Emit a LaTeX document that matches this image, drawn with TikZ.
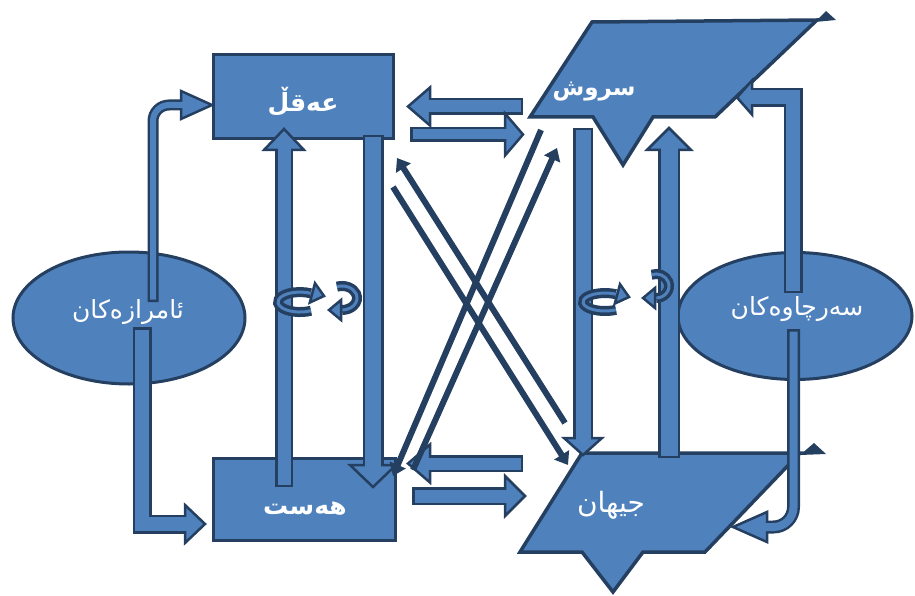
\documentclass[tikz,border=0pt]{standalone}
\usepackage{fontspec}
\newfontfamily\arfont[Script=Arabic]{DejaVu Sans}
\TeXXeTstate=1
\usepackage{tikz}
\usetikzlibrary{arrows.meta}
\usetikzlibrary{calc}
\usetikzlibrary{shapes.geometric}

\definecolor{blockblue}{HTML}{4F81BD}
\definecolor{edge}{HTML}{243F60}

% head of a block arrow: tip, direction, length, half width
\newcommand{\arrowhead}[4]{%
  \filldraw[fill=blockblue, draw=edge, line width=2.5pt, line join=miter]
    (#1) -- ($(#1)+(#2+180:#3)+(#2+90:#4)$) -- ($(#1)+(#2+180:#3)+(#2-90:#4)$) -- cycle;}

% block arrow: shaft width, shaft path, tip, direction, head length, head half width
\newcommand{\blockarrow}[6]{%
  \pgfmathsetmacro\outw{#1+5}%
  \draw[edge, line width=\outw pt] #2;
  \arrowhead{#3}{#4}{#5}{#6}
  \draw[blockblue, line width=#1pt, shorten <=2.5pt, shorten >=-2pt] #2;}

\begin{document}
\begin{tikzpicture}[x=1pt, y=-1pt]

\tikzstyle{box} = [rectangle, draw=edge, fill=blockblue, line width=3.5pt]
\tikzstyle{oval} = [ellipse, draw=edge, fill=blockblue, line width=3pt]
\tikzstyle{shapeline} = [draw=edge, fill=blockblue, line width=3.5pt, line join=miter]
\tikzstyle{lbl} = [text=white, font=\arfont\fontsize{25}{30}\selectfont]
\tikzstyle{boldlbl} = [text=white, font=\arfont\bfseries\fontsize{25}{30}\selectfont]
\tikzstyle{xline} = [edge, line width=6pt, -{Triangle[length=12pt,width=17pt]}]

\useasboundingbox (0,0) rectangle (915,596);

\node[oval, minimum width=232pt, minimum height=132pt] (amraz) at (129,318) {};
\node[oval, minimum width=234pt, minimum height=127pt] (sarchawa) at (795,316) {};

\node[box, minimum width=180pt, minimum height=84pt] (aql) at (303.5,96.5) {};
\node[box, minimum width=182pt, minimum height=82pt] (hast) at (304.5,499.5) {};

\draw[shapeline] (592,22) -- (817,20) -- (715,117) -- (653,117) -- (623,165) -- (593,117) -- (530,117) -- cycle;
\draw[shapeline] (582,453) -- (800,453) -- (705,552) -- (643,552) -- (613,592) -- (582,552) -- (520,552) -- cycle;
\fill[edge] (815,22) -- (826,11) -- (836,20) -- cycle;
\fill[edge] (800,455) -- (814,443) -- (826,454) -- cycle;

\node[boldlbl] (aql-t) at (303,102) {\beginR عەقڵ\endR};
\node[boldlbl] (hast-t) at (305,509) {\beginR هەست\endR};
\node[boldlbl, font=\arfont\bfseries\fontsize{23}{28}\selectfont] (srush) at (594,92) {\beginR سروش\endR};
\node[lbl, font=\arfont\fontsize{28}{33}\selectfont] (jihan) at (611,505) {\beginR جیهان\endR};
\node[lbl] (amraz-t) at (128,312) {\beginR ئامرازەکان\endR};
\node[lbl] (sarchawa-t) at (797,309) {\beginR سەرچاوەکان\endR};

% up and down between the boxes
\blockarrow{13}{(284,487) -- (284,150)}{284,129}{270}{21}{20}
\blockarrow{16}{(373,135) -- (373,465)}{373,487}{90}{22}{23}
\blockarrow{15}{(583,128) -- (583,438)}{583,455}{90}{17}{19}
\blockarrow{17}{(669,458) -- (669,150)}{669,128}{270}{22}{22}

% turning arrows
\draw[edge, line width=10pt] (311,310.7) arc[start angle=60, end angle=300, x radius=22, y radius=10];
\draw[blockblue, line width=3pt] (311,310.7) arc[start angle=60, end angle=300, x radius=22, y radius=10];
\arrowhead{324,296}{15}{12}{10}
\draw[edge, line width=10pt] (336.9,286.7) arc[start angle=250, end angle=450, x radius=15, y radius=12];
\draw[blockblue, line width=3pt] (336.9,286.7) arc[start angle=250, end angle=450, x radius=15, y radius=12];
\arrowhead{329,310}{180}{12}{10}
\draw[edge, line width=10pt] (616,309.8) arc[start angle=60, end angle=300, x radius=22, y radius=9];
\draw[blockblue, line width=3pt] (616,309.8) arc[start angle=60, end angle=300, x radius=22, y radius=9];
\arrowhead{629,297}{15}{12}{10}
\draw[edge, line width=10pt] (651.6,274.7) arc[start angle=250, end angle=450, x radius=13, y radius=12];
\draw[blockblue, line width=3pt] (651.6,274.7) arc[start angle=250, end angle=450, x radius=13, y radius=12];
\arrowhead{643,298}{180}{12}{10}

% left and right between the columns
\blockarrow{12}{(523,106.5) -- (430,106.5)}{408,106.5}{180}{22}{19}
\blockarrow{10}{(410,134.5) -- (505,134.5)}{523,134.5}{0}{18}{21}
\blockarrow{12}{(523,463.5) -- (430,463.5)}{408,463.5}{180}{22}{19}
\blockarrow{13}{(412,496) -- (505,496)}{525,496}{0}{20}{20}

% from the two ovals
\blockarrow{6}{[rounded corners=16pt] (153,302) |- (181,105)}{212,105}{0}{31}{14}
\blockarrow{14}{(142,327) |- (185,524)}{205,524}{0}{20}{19}
\blockarrow{14}{(793,293) |- (752,97.5)}{737,97.5}{180}{15}{17}
\blockarrow{8}{[rounded corners=20pt] (793.5,329) |- (767,527)}{733,527}{180}{34}{15}

% cross
\draw[xline] (565,423) -- (397,158);
\draw[xline] (393,187) -- (568,465);
\draw[xline] (541,130) -- (393,476);
\draw[xline] (413,470) -- (557,148);

\end{tikzpicture}
\end{document}
